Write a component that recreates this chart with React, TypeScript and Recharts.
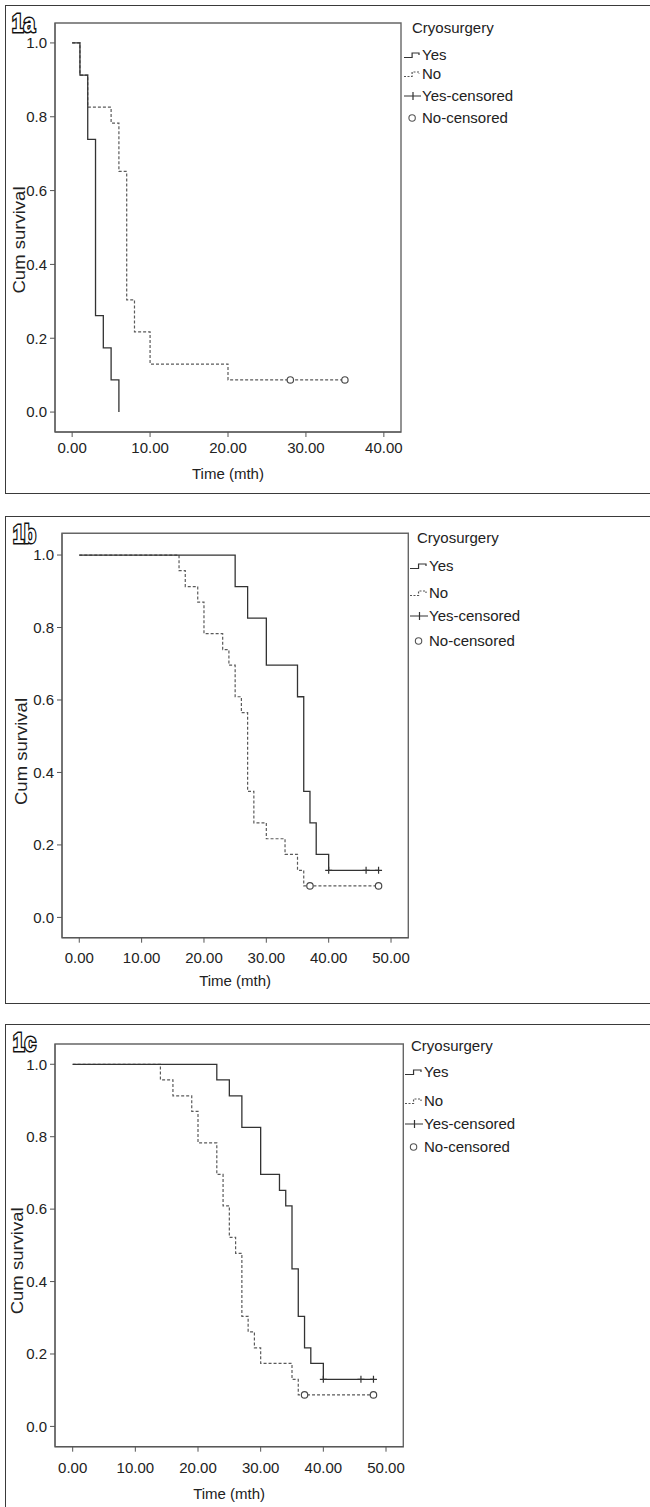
import { ComposedChart, Line, Scatter, XAxis, YAxis, ReferenceArea, Label } from "recharts"

const FONT = "'Liberation Sans', Arial, sans-serif"

const legendTitle = "Cryosurgery"
const legendItems = ["Yes", "No", "Yes-censored", "No-censored"]
const xTitle = "Time (mth)"
const yTitle = "Cum survival"
const panelLabels = ["1a", "1b", "1c"]

const yTicks = [0, 0.2, 0.4, 0.6, 0.8, 1.0]
const xTicksA = [0, 10, 20, 30, 40]
const xTicksBC = [0, 10, 20, 30, 40, 50]

// 1a
const aYesTime = [0, 1, 2, 3, 4, 5, 6]
const aYesSurv = [1, 0.913, 0.739, 0.261, 0.174, 0.087, 0]
const aNoTime = [0, 1, 2, 5, 6, 7, 8, 10, 20, 35]
const aNoSurv = [1, 0.913, 0.826, 0.783, 0.652, 0.304, 0.217, 0.13, 0.087, 0.087]
const aYesCensTime: number[] = []
const aYesCensSurv: number[] = []
const aNoCensTime = [28, 35]
const aNoCensSurv = [0.087, 0.087]

// 1b
const bYesTime = [0, 25, 27, 30, 35, 36, 37, 38, 40, 48]
const bYesSurv = [1, 0.913, 0.826, 0.696, 0.609, 0.348, 0.261, 0.174, 0.13, 0.13]
const bNoTime = [0, 16, 17, 19, 20, 23, 24, 25, 26, 27, 28, 30, 33, 35, 36, 48]
const bNoSurv = [1, 0.957, 0.913, 0.87, 0.783, 0.739, 0.696, 0.609, 0.565, 0.348, 0.261, 0.217, 0.174, 0.13, 0.087, 0.087]
const bYesCensTime = [40, 46, 48]
const bYesCensSurv = [0.13, 0.13, 0.13]
const bNoCensTime = [37, 48]
const bNoCensSurv = [0.087, 0.087]

// 1c
const cYesTime = [0, 23, 25, 27, 30, 33, 34, 35, 36, 37, 38, 40, 48]
const cYesSurv = [1, 0.957, 0.913, 0.826, 0.696, 0.652, 0.609, 0.435, 0.304, 0.217, 0.174, 0.13, 0.13]
const cNoTime = [0, 14, 16, 19, 20, 23, 24, 25, 26, 27, 28, 29, 30, 35, 36, 48]
const cNoSurv = [1, 0.957, 0.913, 0.87, 0.783, 0.696, 0.609, 0.522, 0.478, 0.304, 0.261, 0.217, 0.174, 0.13, 0.087, 0.087]
const cYesCensTime = [40, 46, 48]
const cYesCensSurv = [0.13, 0.13, 0.13]
const cNoCensTime = [37, 48]
const cNoCensSurv = [0.087, 0.087]

type Pt = { t: number; s: number }
const toPts = (ts: number[], ss: number[]): Pt[] => ts.map((t, i) => ({ t, s: ss[i] }))

type PanelCfg = {
  boxTop: number
  boxHeight: number
  top: number
  plotLeft: number
  plotTop: number
  plotRight: number
  plotBottom: number
  xDomain: [number, number]
  yDomain: [number, number]
  xTickMargin: number
  xTitleDy: number
  yTitleX: number
  yTitleDy: number
  labelX: number
  labelBase: number
  legTitleX: number
  legTitleY: number
  legIconX: number
  legTextX: number
  legRows: number[]
}

const cfgA: PanelCfg = {
  boxTop: 5, boxHeight: 489, top: 6,
  plotLeft: 55, plotTop: 23, plotRight: 401, plotBottom: 432,
  xDomain: [-2.2, 42.2], yDomain: [-0.054, 1.054],
  xTickMargin: 5.7, xTitleDy: 41, yTitleX: 19, yTitleDy: 12.5,
  labelX: 12, labelBase: 32,
  legTitleX: 412, legTitleY: 21.5, legIconX: 404, legTextX: 422,
  legRows: [49.2, 68.2, 89.8, 112.2],
}
const cfgB: PanelCfg = {
  boxTop: 515.5, boxHeight: 488.5, top: 515,
  plotLeft: 62, plotTop: 533.3, plotRight: 408.3, plotBottom: 937.7,
  xDomain: [-2.77, 52.77], yDomain: [-0.056, 1.06],
  xTickMargin: 9.3, xTitleDy: 42.3, yTitleX: 21, yTitleDy: 16,
  labelX: 13, labelBase: 542.5,
  legTitleX: 417, legTitleY: 22.5, legIconX: 410, legTextX: 429,
  legRows: [50.5, 78, 100.5, 125.5],
}
const cfgC: PanelCfg = {
  boxTop: 1024.3, boxHeight: 600, top: 1024,
  plotLeft: 55, plotTop: 1044, plotRight: 403.3, plotBottom: 1446.7,
  xDomain: [-2.82, 52.76], yDomain: [-0.056, 1.056],
  xTickMargin: 10.2, xTitleDy: 46.6, yTitleX: 17.5, yTitleDy: 15.5,
  labelX: 13, labelBase: 1051,
  legTitleX: 411, legTitleY: 21.5, legIconX: 405, legTextX: 424,
  legRows: [48.3, 76.5, 100, 122.5],
}

const CircleMark = (p: any) => (
  <circle cx={p.cx} cy={p.cy} r={3.2} fill="#fff" stroke="#4a4a4a" strokeWidth={1.2} />
)
const PlusMark = (p: any) => (
  <path d={`M${p.cx - 3.5} ${p.cy} H${p.cx + 3.5} M${p.cx} ${p.cy - 3.5} V${p.cy + 3.5}`} stroke="#333" strokeWidth={1.2} fill="none" />
)

function LegendIcon({ idx, w }: { idx: number; w: number }) {
  const h = 16
  const m = h / 2
  if (idx === 0 || idx === 1) {
    return (
      <svg width={w} height={h} style={{ display: "block" }}>
        <path
          d={`M0 ${m + 2.5} H${w * 0.45} V${m - 2} H${w - 3} V${m}`}
          stroke={idx === 0 ? "#333" : "#555"}
          strokeWidth={1.2}
          strokeDasharray={idx === 1 ? "2 1.5" : undefined}
          fill="none"
        />
      </svg>
    )
  }
  if (idx === 2) {
    return (
      <svg width={w} height={h} style={{ display: "block" }}>
        <path d={`M0 ${m} H${w - 1} M${w * 0.5} ${m - 4} V${m + 4}`} stroke="#333" strokeWidth={1.2} fill="none" />
      </svg>
    )
  }
  return (
    <svg width={w} height={h} style={{ display: "block" }}>
      <circle cx={w * 0.45} cy={m} r={3.2} fill="#fff" stroke="#555" strokeWidth={1.1} />
    </svg>
  )
}

function KMPanel({
  cfg, label, xTicks, yes, no, yesCens, noCens,
}: {
  cfg: PanelCfg
  label: string
  xTicks: number[]
  yes: Pt[]
  no: Pt[]
  yesCens: Pt[]
  noCens: Pt[]
}) {
  const W = 650
  const H = 487
  const xAxisH = 50
  const relBottom = cfg.plotBottom - cfg.top
  const relTop = cfg.plotTop - cfg.top
  const margin = { top: relTop, right: W - cfg.plotRight, left: 0, bottom: H - relBottom - xAxisH }
  const cx = (cfg.plotLeft + cfg.plotRight) / 2
  const cyMid = (relTop + relBottom) / 2

  return (
    <>
      <div
        style={{
          position: "absolute", left: 5, top: cfg.boxTop, width: 720, height: cfg.boxHeight,
          border: "1.5px solid #3a3a3a", boxSizing: "border-box",
        }}
      />
      <div style={{ position: "absolute", left: 0, top: cfg.top, width: W, height: H }}>
        <ComposedChart width={W} height={H} margin={margin} style={{ fontFamily: FONT }}>
          <ReferenceArea
            x1={cfg.xDomain[0]} x2={cfg.xDomain[1]} y1={cfg.yDomain[0]} y2={cfg.yDomain[1]}
            fill="none" stroke="#666" strokeWidth={1.4} ifOverflow="visible"
          />
          <XAxis
            type="number" dataKey="t" domain={cfg.xDomain} ticks={xTicks} allowDataOverflow
            height={xAxisH} tickSize={5} tickMargin={cfg.xTickMargin}
            tickFormatter={(v: number) => v.toFixed(2)}
            stroke="#555" tick={{ fontSize: 15, fill: "#222" }}
          >
            <Label
              content={() => (
                <text x={cx} y={relBottom + cfg.xTitleDy} textAnchor="middle" dominantBaseline="central" fontSize={15} fill="#222" fontFamily={FONT}>
                  {xTitle}
                </text>
              )}
            />
          </XAxis>
          <YAxis
            type="number" dataKey="s" domain={cfg.yDomain} ticks={yTicks} allowDataOverflow
            width={cfg.plotLeft} tickSize={5} tickMargin={3}
            tickFormatter={(v: number) => v.toFixed(1)}
            stroke="#555" tick={{ fontSize: 15, fill: "#222" }}
          >
            <Label
              content={() => (
                <text
                  transform={`translate(${cfg.yTitleX},${cyMid + cfg.yTitleDy}) rotate(-90)`}
                  textAnchor="middle" dominantBaseline="central" fontSize={17} fill="#222" fontFamily={FONT}
                  textLength={107} lengthAdjust="spacingAndGlyphs"
                >
                  {yTitle}
                </text>
              )}
            />
          </YAxis>
          <Line data={no} dataKey="s" type="stepAfter" stroke="#5a5a5a" strokeWidth={1.2} strokeDasharray="3 2" dot={false} isAnimationActive={false} />
          <Line data={yes} dataKey="s" type="stepAfter" stroke="#333" strokeWidth={1.3} dot={false} isAnimationActive={false} />
          <Scatter data={noCens} dataKey="s" shape={CircleMark} isAnimationActive={false} />
          <Scatter data={yesCens} dataKey="s" shape={PlusMark} isAnimationActive={false} />
        </ComposedChart>
      </div>
      <svg style={{ position: "absolute", left: cfg.labelX - 2, top: cfg.labelBase - 26 }} width={40} height={32}>
        <text
          x={2} y={26} fontFamily={FONT} fontWeight={900} fontSize={25}
          fill="#fff" stroke="#111" strokeWidth={3} paintOrder="stroke"
          textLength={23} lengthAdjust="spacingAndGlyphs"
        >
          {label}
        </text>
      </svg>
      <div
        style={{
          position: "absolute", left: cfg.legTitleX, top: cfg.top + cfg.legTitleY - 9,
          height: 18, lineHeight: "18px", fontSize: 15, fontFamily: FONT, color: "#222", whiteSpace: "nowrap",
        }}
      >
        {legendTitle}
      </div>
      {legendItems.map((name, i) => (
        <div
          key={name}
          style={{
            position: "absolute", left: cfg.legIconX, top: cfg.top + cfg.legRows[i] - 9, height: 18,
            display: "flex", alignItems: "center", whiteSpace: "nowrap",
          }}
        >
          <LegendIcon idx={i} w={cfg.legTextX - cfg.legIconX} />
          <span style={{ fontSize: 15, lineHeight: "18px", fontFamily: FONT, color: "#222" }}>{name}</span>
        </div>
      ))}
    </>
  )
}

export default function App() {
  return (
    <div style={{ position: "absolute", left: 0, top: 0, width: 650, height: 1507, overflow: "hidden", background: "#fff" }}>
      <KMPanel
        cfg={cfgA} label={panelLabels[0]} xTicks={xTicksA}
        yes={toPts(aYesTime, aYesSurv)} no={toPts(aNoTime, aNoSurv)}
        yesCens={toPts(aYesCensTime, aYesCensSurv)} noCens={toPts(aNoCensTime, aNoCensSurv)}
      />
      <KMPanel
        cfg={cfgB} label={panelLabels[1]} xTicks={xTicksBC}
        yes={toPts(bYesTime, bYesSurv)} no={toPts(bNoTime, bNoSurv)}
        yesCens={toPts(bYesCensTime, bYesCensSurv)} noCens={toPts(bNoCensTime, bNoCensSurv)}
      />
      <KMPanel
        cfg={cfgC} label={panelLabels[2]} xTicks={xTicksBC}
        yes={toPts(cYesTime, cYesSurv)} no={toPts(cNoTime, cNoSurv)}
        yesCens={toPts(cYesCensTime, cYesCensSurv)} noCens={toPts(cNoCensTime, cNoCensSurv)}
      />
    </div>
  )
}
